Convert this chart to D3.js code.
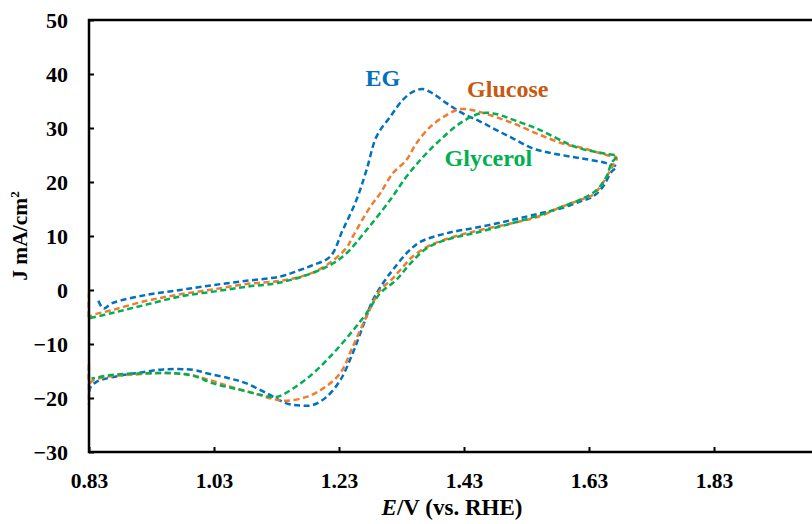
<!DOCTYPE html>
<html>
<head>
<meta charset="utf-8">
<script src="https://cdn.jsdelivr.net/npm/d3@7"></script>
<style>
  body { margin: 0; background: #fff; }
  svg { display: block; }
  text { font-family: "Liberation Serif", "Times New Roman", serif; font-weight: bold; }
</style>
</head>
<body>
<div id="chart"></div>
<script>
// tick values
const xTicks = [0.83, 1.03, 1.23, 1.43, 1.63, 1.83]
const yTicks = [-30, -20, -10, 0, 10, 20, 30, 40, 50]

// EG  (E in V vs RHE, J in mA/cm2), forward scan then reverse scan
const egData = [
  [0.845, -2.0], [0.853, -3.4], [0.868, -2.4], [0.922, -0.9], [0.976, 0.0],
  [1.028, 0.9], [1.082, 1.7], [1.136, 2.5], [1.165, 3.6], [1.188, 4.6],
  [1.216, 6.2], [1.236, 11.1], [1.258, 16.7], [1.274, 22.2], [1.290, 28.4],
  [1.312, 32.1], [1.332, 35.2], [1.348, 36.7], [1.364, 37.2], [1.380, 36.4],
  [1.402, 34.6], [1.428, 32.7], [1.456, 31.2], [1.482, 29.6], [1.508, 28.1],
  [1.540, 26.2], [1.572, 25.3], [1.616, 24.4], [1.658, 23.5], [1.674, 22.8],
  [1.666, 21.9], [1.652, 19.1], [1.636, 17.3], [1.616, 16.4], [1.584, 15.1],
  [1.552, 14.2], [1.508, 13.0], [1.456, 11.7], [1.402, 10.5], [1.360, 8.9],
  [1.338, 6.8], [1.316, 3.7], [1.306, 2.2], [1.284, -1.9], [1.268, -6.8],
  [1.252, -11.7], [1.232, -16.7], [1.210, -19.8], [1.188, -21.3], [1.168, -21.4],
  [1.146, -21.0], [1.114, -19.1], [1.082, -17.3], [1.056, -16.4], [1.018, -15.4],
  [0.997, -14.8], [0.949, -14.7], [0.906, -15.4], [0.869, -16.1], [0.842, -17.0],
  [0.832, -18.1], [0.830, -19.2]
]

// Glucose
const glucoseData = [
  [0.830, -0.4], [0.830, -5.6], [0.832, -4.9], [0.868, -3.7], [0.922, -2.0],
  [0.976, -0.8], [1.028, 0.1], [1.082, 1.1], [1.136, 1.7], [1.178, 2.8],
  [1.210, 4.6], [1.242, 7.8], [1.252, 9.9], [1.280, 15.4], [1.296, 17.9],
  [1.316, 21.6], [1.338, 24.1], [1.354, 27.2], [1.376, 30.2], [1.402, 32.4],
  [1.424, 33.5], [1.444, 33.3], [1.466, 32.6], [1.508, 30.9], [1.552, 28.7],
  [1.594, 26.9], [1.616, 26.4], [1.658, 25.0], [1.674, 24.5],
  [1.664, 22.2], [1.652, 19.8], [1.636, 17.6], [1.616, 16.7], [1.584, 15.3],
  [1.552, 13.7], [1.508, 12.4], [1.456, 11.1], [1.424, 10.2], [1.376, 8.3],
  [1.348, 6.2], [1.328, 3.7], [1.314, 1.9], [1.296, 0.0], [1.274, -4.9],
  [1.252, -10.5], [1.232, -15.4], [1.205, -18.2], [1.178, -19.8], [1.146, -20.5],
  [1.125, -20.2], [1.093, -19.1], [1.056, -17.9], [1.018, -16.5], [0.992, -15.7],
  [0.949, -15.4], [0.896, -15.7], [0.858, -16.1], [0.837, -16.7], [0.831, -17.2],
  [0.830, -13.5], [0.830, -21.3]
]

// Glycerol
const glycerolData = [
  [0.832, -5.2], [0.869, -4.2], [0.922, -2.7], [0.976, -1.2], [1.029, -0.3],
  [1.082, 0.6], [1.136, 1.4], [1.189, 3.2], [1.220, 4.9], [1.242, 6.8],
  [1.274, 11.1], [1.312, 16.7], [1.338, 21.0], [1.365, 24.7], [1.392, 27.8],
  [1.424, 30.9], [1.456, 32.7], [1.477, 32.7], [1.509, 31.5], [1.552, 29.6],
  [1.594, 27.2], [1.616, 26.2], [1.658, 25.2], [1.674, 24.8],
  [1.666, 23.5], [1.658, 21.0], [1.642, 18.5], [1.621, 17.0], [1.584, 15.3],
  [1.552, 13.9], [1.508, 12.4], [1.456, 10.8], [1.402, 9.3], [1.370, 7.7],
  [1.344, 4.9], [1.322, 1.9], [1.296, -0.6], [1.274, -4.3], [1.253, -7.4],
  [1.221, -11.7], [1.189, -15.4], [1.157, -18.2], [1.130, -19.8], [1.104, -19.4],
  [1.072, -18.5], [1.029, -17.3], [0.997, -15.9], [0.965, -15.4], [0.922, -15.4],
  [0.869, -15.7], [0.834, -16.4]
]

const series = [
  {name: "EG", data: egData, color: "#0070C0"},
  {name: "Glucose", data: glucoseData, color: "#ED7D31"},
  {name: "Glycerol", data: glycerolData, color: "#00B050"}
]

const width = 812, height = 524
const margin = {top: 20, left: 89, bottom: 72}

const svg = d3.select("#chart").append("svg")
    .attr("width", width)
    .attr("height", height)

// axis runs out past the right edge of the picture (next tick 2.03 would be off-screen)
const x = d3.scaleLinear().domain([0.83, 2.03]).range([margin.left, margin.left + 750])
const y = d3.scaleLinear().domain([-30, 50]).range([height - margin.bottom, margin.top])

const plotW = x(2.03) - x(0.83)
const plotH = y(-30) - y(50)

const line = d3.line()
    .curve(d3.curveCatmullRom.alpha(0.5))
    .x(d => x(d[0]))
    .y(d => y(d[1]))

series.forEach(s => {
    svg.append("path")
       .datum(s.data)
       .attr("fill", "none")
       .attr("stroke", s.color)
       .attr("stroke-width", 2.5)
       .attr("stroke-dasharray", "6,3.5")
       .attr("stroke-linejoin", "round")
       .attr("d", line)
})

// frame
svg.append("rect")
   .attr("x", x(0.83))
   .attr("y", y(50))
   .attr("width", plotW)
   .attr("height", plotH)
   .attr("fill", "none")
   .attr("stroke", "#000")
   .attr("stroke-width", 2.5)

// y axis (ticks inward)
const yAxis = d3.axisLeft(y).tickValues(yTicks).tickSize(-5).tickPadding(21).tickFormat(d3.format("d"))
const gy = svg.append("g").attr("transform", `translate(${x(0.83)},0)`).call(yAxis)
gy.select(".domain").remove()
gy.selectAll(".tick line").attr("stroke", "#000").attr("stroke-width", 2)
gy.selectAll(".tick text")
  .attr("font-family", "Liberation Serif, serif")
  .attr("font-weight", "bold")
  .attr("font-size", 22)
  .attr("fill", "#000")

// x axis (ticks inward)
const xAxis = d3.axisBottom(x).tickValues(xTicks).tickSize(-5).tickPadding(21).tickFormat(d3.format(".2f"))
const gx = svg.append("g").attr("transform", `translate(0,${y(-30)})`).call(xAxis)
gx.select(".domain").remove()
gx.selectAll(".tick line").attr("stroke", "#000").attr("stroke-width", 2)
gx.selectAll(".tick text")
  .attr("font-family", "Liberation Serif, serif")
  .attr("font-weight", "bold")
  .attr("font-size", 21.5)
  .attr("fill", "#000")

// axis titles
const xt = svg.append("text")
    .attr("x", 452)
    .attr("y", 515)
    .attr("text-anchor", "middle")
    .attr("font-size", 23)
xt.append("tspan").attr("font-style", "italic").text("E")
xt.append("tspan").text("/V (vs. RHE)")

const yt = svg.append("text")
    .attr("transform", "translate(27,236) rotate(-90)")
    .attr("text-anchor", "middle")
    .attr("font-size", 21.5)
yt.append("tspan").text("J mA/cm")
yt.append("tspan").attr("font-size", 13).attr("dy", -8).text("2")

// curve labels
const labels = [
  {text: "EG", e: 1.3, j: 37.7, color: "#0070C0"},
  {text: "Glucose", e: 1.5, j: 35.8, color: "#C55A11"},
  {text: "Glycerol", e: 1.469, j: 22.9, color: "#00B050"}
]
labels.forEach(l => {
    svg.append("text")
       .attr("x", x(l.e))
       .attr("y", y(l.j))
       .attr("text-anchor", "middle")
       .attr("font-size", 24)
       .attr("fill", l.color)
       .text(l.text)
})
</script>
</body>
</html>
